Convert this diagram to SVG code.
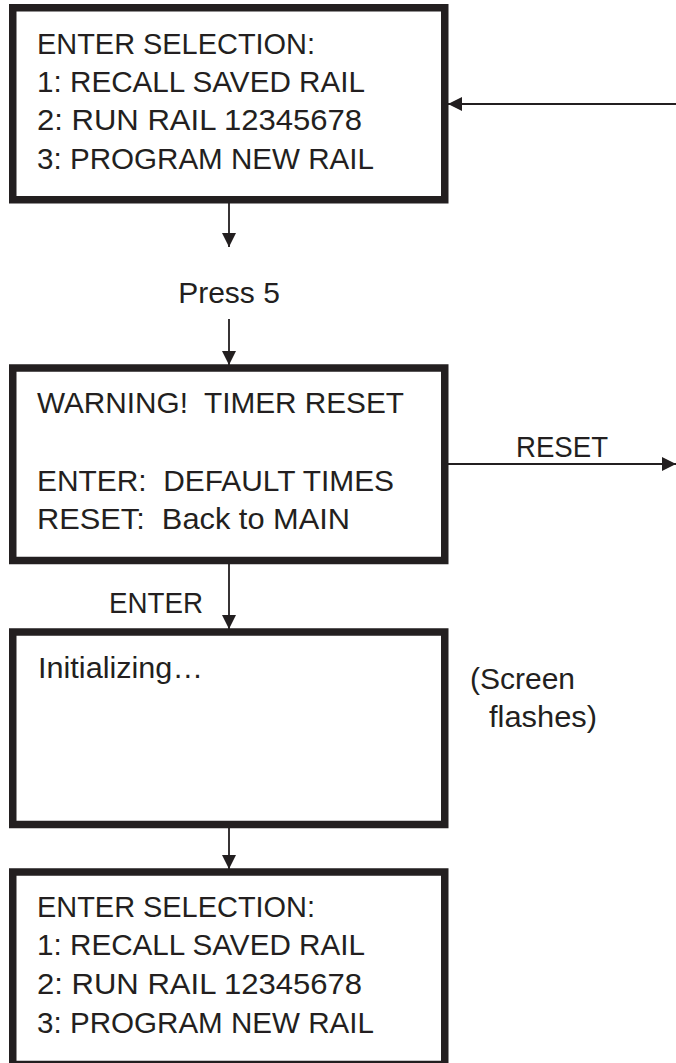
<svg xmlns="http://www.w3.org/2000/svg" width="676" height="1063" viewBox="0 0 676 1063">
  <style>
    .screen { fill: #ffffff; stroke: #231f20; stroke-width: 7.5; }
    .txt { font-family: "Liberation Sans", Arial, sans-serif; font-size: 30px; fill: #231f20; white-space: pre; }
    .edge { stroke: #231f20; stroke-width: 1.8; fill: none; }
  </style>
  <defs>
    <marker id="arrow" viewBox="0 0 14 14" refX="14" refY="7" markerWidth="14" markerHeight="14" markerUnits="userSpaceOnUse" orient="auto">
      <path d="M0,0 L14,7 L0,14 Z" fill="#231f20"/>
    </marker>
  </defs>
  <rect width="676" height="1063" fill="#ffffff"/>

  <g id="connectors">
    <line class="edge" x1="229" y1="203" x2="229" y2="247" marker-end="url(#arrow)"/>
    <line class="edge" x1="676" y1="104" x2="448" y2="104" marker-end="url(#arrow)"/>
    <line class="edge" x1="229" y1="319" x2="229" y2="365" marker-end="url(#arrow)"/>
    <line class="edge" x1="448" y1="464" x2="676" y2="464" marker-end="url(#arrow)"/>
    <line class="edge" x1="229" y1="564" x2="229" y2="629" marker-end="url(#arrow)"/>
    <line class="edge" x1="229" y1="828" x2="229" y2="869" marker-end="url(#arrow)"/>
    <text class="txt" x="229" y="303" text-anchor="middle">Press 5</text>
    <text class="txt" x="516" y="457" textLength="92" lengthAdjust="spacingAndGlyphs">RESET</text>
    <text class="txt" x="109" y="613" textLength="94" lengthAdjust="spacingAndGlyphs">ENTER</text>
    <text class="txt" x="470" y="689" textLength="105" lengthAdjust="spacingAndGlyphs">(Screen</text>
    <text class="txt" x="489" y="727" textLength="108" lengthAdjust="spacingAndGlyphs">flashes)</text>
  </g>

  <g id="main-menu">
    <rect class="screen" x="12.75" y="7.75" width="432" height="192"/>
    <text class="txt" x="37" y="54" textLength="278" lengthAdjust="spacingAndGlyphs">ENTER SELECTION:</text>
    <text class="txt" x="37" y="92" textLength="328" lengthAdjust="spacingAndGlyphs">1: RECALL SAVED RAIL</text>
    <text class="txt" x="37" y="130" textLength="325" lengthAdjust="spacingAndGlyphs">2: RUN RAIL 12345678</text>
    <text class="txt" x="37" y="169" textLength="337" lengthAdjust="spacingAndGlyphs">3: PROGRAM NEW RAIL</text>
  </g>

  <g id="timer-warning">
    <rect class="screen" x="12.75" y="368" width="432" height="192.5"/>
    <text class="txt" x="37" y="413" textLength="367" lengthAdjust="spacingAndGlyphs">WARNING!  TIMER RESET</text>
    <text class="txt" x="37" y="491" textLength="357" lengthAdjust="spacingAndGlyphs">ENTER:  DEFAULT TIMES</text>
    <text class="txt" x="37" y="529" textLength="313" lengthAdjust="spacingAndGlyphs">RESET:  Back to MAIN</text>
  </g>

  <g id="initializing">
    <rect class="screen" x="12.75" y="632" width="432" height="192.5"/>
    <text class="txt" x="38" y="678" textLength="165" lengthAdjust="spacingAndGlyphs">Initializing…</text>
  </g>

  <g id="main-menu-return">
    <rect class="screen" x="12.75" y="872" width="432" height="192.5"/>
    <text class="txt" x="37" y="917" textLength="278" lengthAdjust="spacingAndGlyphs">ENTER SELECTION:</text>
    <text class="txt" x="37" y="955" textLength="328" lengthAdjust="spacingAndGlyphs">1: RECALL SAVED RAIL</text>
    <text class="txt" x="37" y="994" textLength="325" lengthAdjust="spacingAndGlyphs">2: RUN RAIL 12345678</text>
    <text class="txt" x="37" y="1033" textLength="337" lengthAdjust="spacingAndGlyphs">3: PROGRAM NEW RAIL</text>
  </g>
</svg>
